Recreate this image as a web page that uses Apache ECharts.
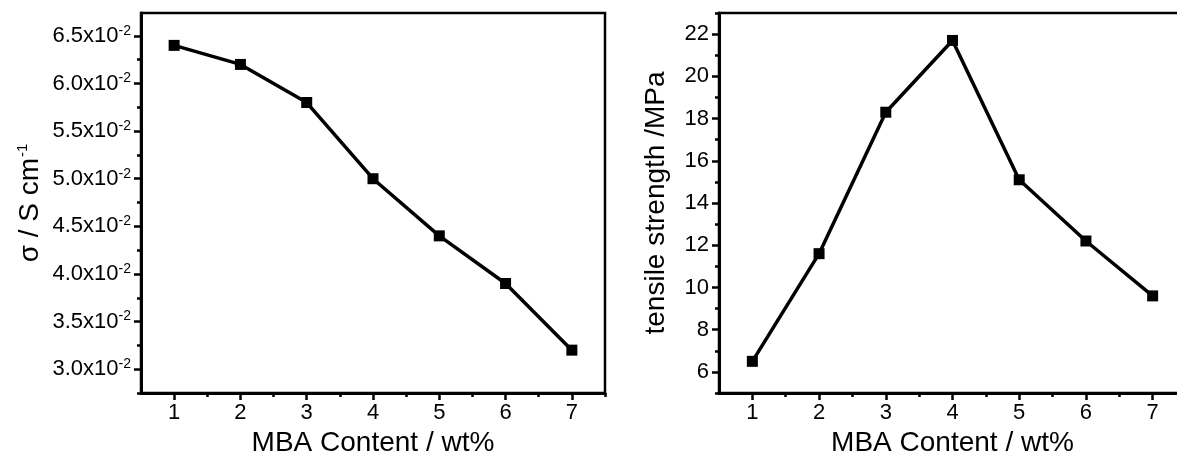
<!DOCTYPE html>
<html>
<head>
<meta charset="utf-8">
<script src="https://cdn.jsdelivr.net/npm/echarts@6/dist/echarts.min.js"></script>
<style>
  html, body { margin: 0; padding: 0; background: #fff; overflow: hidden; }
  #chart { width: 1190px; height: 466px; }
</style>
</head>
<body>
<div id="chart"></div>
<script>
// MBA content (wt%) on both panels
const mbaContent = [1, 2, 3, 4, 5, 6, 7];
// Ionic conductivity, S/cm
const conductivity = [0.064, 0.062, 0.058, 0.050, 0.044, 0.039, 0.032];
// Tensile strength, MPa
const tensileStrength = [6.5, 11.6, 18.3, 21.7, 15.1, 12.2, 9.6];

// Tick positions
const xMajorTicks = [1, 2, 3, 4, 5, 6, 7];
const xMinorTicks = [1.5, 2.5, 3.5, 4.5, 5.5, 6.5, 7.5];
const condMajorTicks = [0.030, 0.035, 0.040, 0.045, 0.050, 0.055, 0.060, 0.065];
const condMinorTicks = [0.0275, 0.0325, 0.0375, 0.0425, 0.0475, 0.0525, 0.0575, 0.0625, 0.0675];
const tensileMajorTicks = [6, 8, 10, 12, 14, 16, 18, 20, 22];
const tensileMinorTicks = [5, 7, 9, 11, 13, 15, 17, 19, 21, 23];

const FONT = 'Liberation Sans, Arial, sans-serif';
const INK = '#000';

function xAxes(gridIndex) {
  const base = {
    type: 'value', gridIndex: gridIndex, min: 0.5, max: 7.5,
    position: 'bottom', offset: 0,
    splitLine: { show: false }
  };
  return [
    Object.assign({}, base, {
      name: 'MBA Content / wt%', nameLocation: 'middle', nameGap: 34,
      nameTextStyle: { fontFamily: FONT, fontSize: 28, color: INK },
      axisLine: { show: true, lineStyle: { color: INK, width: 3 } },
      axisTick: { show: true, inside: false, length: 7, customValues: xMajorTicks, lineStyle: { color: INK, width: 2.5 } },
      axisLabel: { show: true, customValues: xMajorTicks, margin: 9, fontFamily: FONT, fontSize: 22, color: INK }
    }),
    Object.assign({}, base, {
      axisLine: { show: false },
      axisTick: { show: true, inside: false, length: 4, customValues: xMinorTicks, lineStyle: { color: INK, width: 2.5 } },
      axisLabel: { show: false }
    })
  ];
}

function yAxes(gridIndex, min, max, major, minor, name, nameGap, labelFmt, labelRich) {
  return [
    {
      type: 'value', gridIndex: gridIndex, min: min, max: max,
      position: 'left', offset: 0,
      name: name, nameLocation: 'middle', nameRotate: 90, nameGap: nameGap,
      nameTextStyle: {
        fontFamily: FONT, fontSize: 28, color: INK,
        rich: {
          n: { fontFamily: FONT, fontSize: 28, color: INK },
          s: { fontFamily: FONT, fontSize: 15, color: INK, padding: [0, 0, 15, 1] }
        }
      },
      splitLine: { show: false },
      axisLine: { show: true, lineStyle: { color: INK, width: 3 } },
      axisTick: { show: true, inside: false, length: 7, customValues: major, lineStyle: { color: INK, width: 2.5 } },
      axisLabel: {
        show: true, customValues: major, margin: 10,
        fontFamily: FONT, fontSize: 22, color: INK,
        formatter: labelFmt, rich: labelRich
      }
    },
    {
      type: 'value', gridIndex: gridIndex, min: min, max: max,
      position: 'left', offset: 0,
      splitLine: { show: false },
      axisLine: { show: false },
      axisTick: { show: true, inside: false, length: 4, customValues: minor, lineStyle: { color: INK, width: 2.5 } },
      axisLabel: { show: false }
    }
  ];
}

const condLabel = function (v) {
  return '{m|' + (v * 100).toFixed(1) + 'x10}{e|-2}';
};
const condRich = {
  m: { fontFamily: FONT, fontSize: 22, color: INK },
  e: { fontFamily: FONT, fontSize: 14, color: INK, padding: [0, 0, 10, 0] }
};

const chart = echarts.init(document.getElementById('chart'), null, { renderer: 'canvas' });

const gridStyle = { show: true, borderColor: INK, borderWidth: 2.5, backgroundColor: 'transparent', containLabel: false };

const option = {
  animation: false,
  backgroundColor: '#fff',
  grid: [
    Object.assign({ left: 141, top: 13, width: 464, height: 380 }, gridStyle),
    Object.assign({ left: 719, top: 13, width: 467, height: 380 }, gridStyle)
  ],
  xAxis: xAxes(0).concat(xAxes(1)),
  yAxis: yAxes(0, 0.0275, 0.0674, condMajorTicks, condMinorTicks,
               '{n|σ / S cm}{s|-1}', 96, condLabel, condRich)
    .concat(yAxes(1, 5, 23, tensileMajorTicks, tensileMinorTicks,
               'tensile strength /MPa', 49, null, null)),
  series: [
    {
      type: 'line', xAxisIndex: 0, yAxisIndex: 0,
      data: mbaContent.map((x, i) => [x, conductivity[i]]),
      symbol: 'rect', symbolSize: 11,
      lineStyle: { color: INK, width: 3.5 },
      itemStyle: { color: INK }
    },
    {
      type: 'line', xAxisIndex: 2, yAxisIndex: 2,
      data: mbaContent.map((x, i) => [x, tensileStrength[i]]),
      symbol: 'rect', symbolSize: 11,
      lineStyle: { color: INK, width: 3.5 },
      itemStyle: { color: INK }
    }
  ]
};

chart.setOption(option);
</script>
</body>
</html>
